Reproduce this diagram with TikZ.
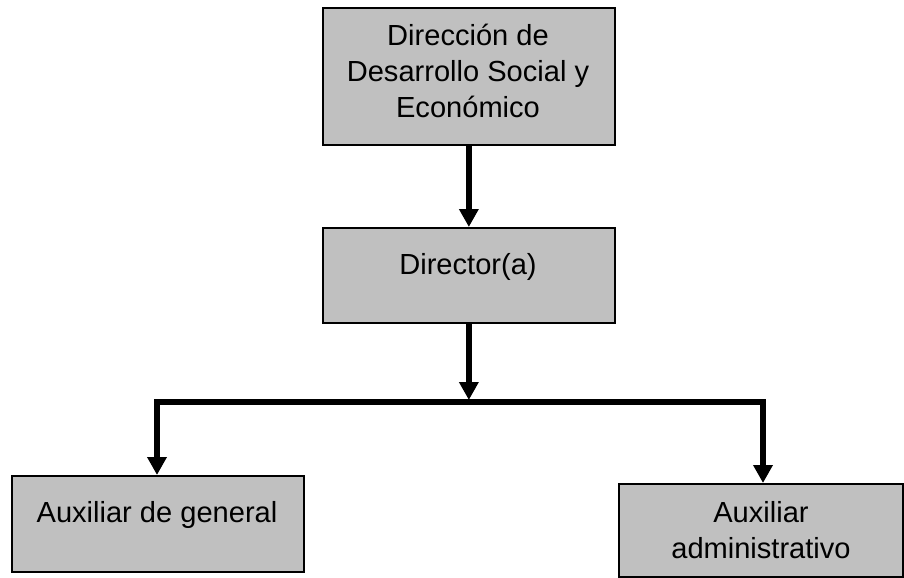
\documentclass[tikz,border=0pt]{standalone}
\usepackage{fontspec}
\setmainfont{Liberation Sans}
\usetikzlibrary{arrows.meta}
\definecolor{boxgray}{RGB}{192,192,192}
\begin{document}
\begin{tikzpicture}[x=0.75pt,y=-0.75pt,
  orgbox/.style={draw=black,fill=boxgray,line width=1.3pt,inner sep=0pt,anchor=north west},
  lbl/.style={font=\fontsize{21.8}{27}\selectfont,align=center,inner sep=0pt,anchor=base},
  conn/.style={line width=4.1pt,line join=miter},
  tip/.style={-{Triangle[length=13.5pt,width=14pt]}}]
\useasboundingbox (0,0) rectangle (904,578);
% boxes
\node[orgbox,minimum width=292*0.75pt,minimum height=137*0.75pt] (top) at (322,7) {};
\node[orgbox,minimum width=292*0.75pt,minimum height=95*0.75pt] (dir) at (322,227) {};
\node[orgbox,minimum width=292*0.75pt,minimum height=96*0.75pt] (lb) at (11,475) {};
\node[orgbox,minimum width=284*0.75pt,minimum height=93*0.75pt] (rb) at (618,483) {};
% texts (base anchor = baseline of the last line)
\node[lbl] (ttop) at (468,117) {Dirección de\\Desarrollo Social y\\Económico};
\node[lbl] (tdir) at (468,274) {Director(a)};
\node[lbl] (tlb) at (157,522) {Auxiliar de general};
\node[lbl] (trb) at (761,558) {Auxiliar\\administrativo};
% connectors
\coordinate (jl) at (157,402);
\coordinate (jr) at (763,402);
\coordinate (jm) at (468,400);
\draw[conn,tip] (top.south) -- (dir.north);
\draw[conn,tip] (dir.south) -- (dir.south |- jm);
\draw[conn,{Triangle[length=13.5pt,width=14pt]}-{Triangle[length=13.5pt,width=14pt]}] (jl |- lb.north) -- (jl) -- (jr) -- (jr |- rb.north);
\end{tikzpicture}
\end{document}
